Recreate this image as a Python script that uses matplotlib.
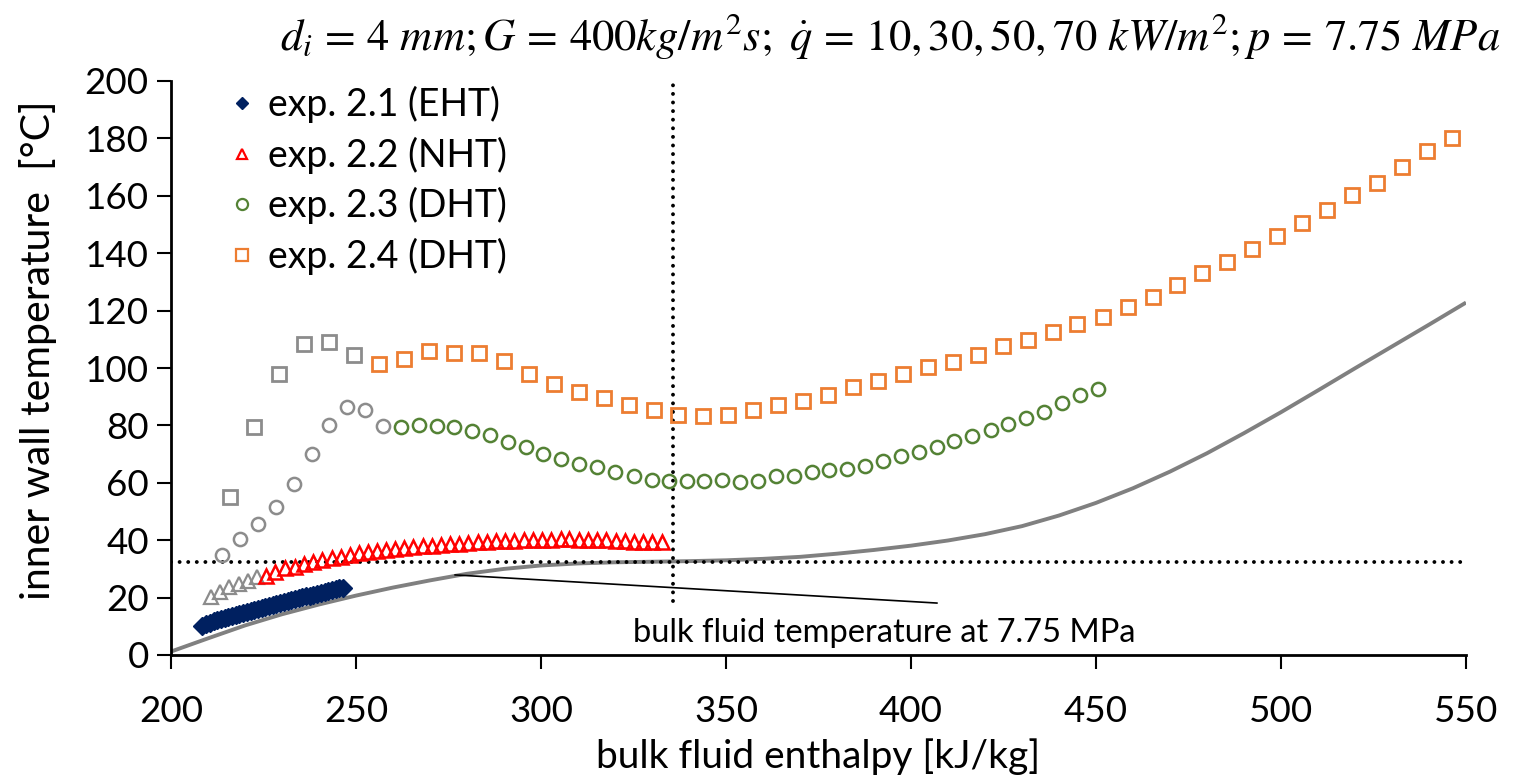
import matplotlib
matplotlib.use("Agg")
import matplotlib.pyplot as plt
from matplotlib.lines import Line2D

plt.rcParams['font.family'] = ['Lato', 'DejaVu Sans']
plt.rcParams['mathtext.fontset'] = 'stix'

# ---------------- data ----------------
# exp 2.1 (EHT)
h21 = [208.5, 209.5, 210.5, 211.5, 212.5, 213.5, 214.5, 215.5, 216.5, 217.5,
       218.5, 219.5, 220.5, 221.5, 222.5, 223.5, 224.5, 225.5, 226.5, 227.5,
       228.5, 229.5, 230.5, 231.5, 232.5, 233.5, 234.5, 235.5, 236.5, 237.5,
       238.5, 239.5, 240.5, 241.5, 242.5, 243.5, 244.5, 245.5, 246.5]
T21 = [10.2, 10.8, 11.3, 11.8, 12.2, 12.6, 13.0, 13.4, 13.7, 14.1,
       14.4, 14.8, 15.1, 15.4, 15.8, 16.1, 16.4, 16.8, 17.1, 17.4,
       17.8, 18.1, 18.4, 18.8, 19.1, 19.4, 19.7, 20.1, 20.4, 20.7,
       21.0, 21.3, 21.6, 22.0, 22.3, 22.6, 22.9, 23.2, 23.5]

# exp 2.2 (NHT) - entrance region (grey) and main part
h22_in = [210.8, 213.3, 215.7, 218.4, 220.9, 223.2]
T22_in = [20.3, 22.1, 23.6, 24.8, 25.8, 27.1]
h22 = [225.7, 228.1, 230.8, 233.5, 236.0, 238.5, 240.9, 243.4, 245.9, 248.4,
       250.9, 253.3, 255.6, 258.1, 260.6, 263.0, 265.5, 268.0, 270.5, 273.0,
       275.5, 277.9, 280.4, 282.9, 285.4, 287.9, 290.4, 292.8, 295.3, 297.8,
       300.3, 302.8, 305.3, 307.7, 310.2, 312.7, 315.2, 317.7, 320.2, 322.6,
       325.1, 327.6, 330.1, 332.6]
T22 = [27.5, 29.0, 30.2, 30.8, 31.6, 32.4, 33.1, 33.7, 34.3, 34.9,
       35.5, 35.8, 36.4, 36.7, 37.0, 37.3, 37.6, 37.9, 38.1, 38.4,
       38.6, 38.8, 39.0, 39.2, 39.4, 39.6, 39.7, 39.8, 39.9, 40.0,
       40.1, 40.2, 40.3, 40.3, 40.2, 40.1, 40.0, 39.9, 39.8, 39.6,
       39.5, 39.5, 39.4, 39.3]

# exp 2.3 (DHT)
h23_in = [213.7, 218.6, 223.4, 228.4, 233.2, 238.0, 242.8, 247.6, 252.4, 257.4]
T23_in = [34.9, 40.3, 45.7, 51.7, 59.6, 70.0, 80.1, 86.4, 85.4, 79.8]
h23 = [262.2, 267.0, 271.8, 276.6, 281.4, 286.2, 291.0, 295.9, 300.6, 305.4,
       310.4, 315.2, 320.0, 325.0, 329.9, 334.7, 339.4, 344.1, 349.0, 353.8,
       358.6, 363.5, 368.3, 373.2, 377.9, 382.8, 387.6, 392.5, 397.3, 402.2,
       406.9, 411.7, 416.6, 421.5, 426.3, 431.1, 436.0, 440.9, 445.7, 450.5]
T23 = [79.6, 80.2, 79.8, 79.6, 78.2, 76.6, 74.2, 72.3, 70.1, 68.3,
       66.6, 65.5, 63.8, 62.5, 61.0, 60.8, 60.7, 60.7, 60.9, 60.4,
       60.8, 62.2, 62.5, 63.6, 64.3, 64.7, 66.0, 67.5, 69.5, 70.7,
       72.4, 74.4, 76.4, 78.5, 80.4, 82.7, 84.8, 87.8, 90.6, 92.7]

# exp 2.4 (DHT)
h24_in = [215.9, 222.5, 229.3, 236.0, 242.8, 249.5]
T24_in = [55.0, 79.4, 98.0, 108.3, 109.2, 104.6]
h24 = [256.3, 263.1, 269.8, 276.6, 283.2, 290.0, 296.8, 303.4, 310.3, 317.0,
       323.8, 330.5, 337.1, 343.9, 350.6, 357.4, 364.1, 370.9, 377.6, 384.4,
       391.2, 397.9, 404.7, 411.4, 418.1, 424.8, 431.5, 438.3, 444.9, 451.8,
       458.6, 465.3, 472.0, 478.7, 485.5, 492.2, 499.0, 505.8, 512.5, 519.3,
       525.9, 532.7, 539.5, 546.2]
T24 = [101.4, 103.1, 106.0, 105.4, 105.2, 102.6, 97.9, 94.4, 91.8, 89.5,
       87.2, 85.4, 83.7, 83.3, 83.7, 85.4, 87.1, 88.6, 90.6, 93.4,
       95.5, 98.0, 100.5, 102.0, 104.6, 107.7, 109.8, 112.5, 115.4, 117.6,
       121.1, 124.9, 129.0, 133.1, 136.8, 141.5, 146.1, 150.5, 155.2, 160.3,
       164.5, 170.0, 175.5, 180.2]

# bulk fluid temperature at 7.75 MPa
h_bulk = [200, 210, 220, 230, 240, 250, 260, 270, 280, 290, 300, 310, 320, 330,
          340, 350, 360, 370, 380, 390, 400, 410, 420, 430, 440, 450, 460, 470,
          480, 490, 500, 510, 520, 530, 540, 550]
T_bulk = [1.2, 5.8, 10.3, 14.2, 17.6, 20.7, 23.5, 26.0, 28.3, 30.0, 31.2, 31.9,
          32.3, 32.5, 32.7, 33.0, 33.5, 34.2, 35.3, 36.6, 38.1, 39.9, 42.1, 44.9,
          48.6, 53.0, 58.1, 63.9, 70.3, 77.3, 84.6, 92.2, 99.9, 107.5, 115.1, 122.8]

T_pc = 32.4     # pseudo-critical temperature
h_pc = 335.6    # pseudo-critical enthalpy

labels = ['exp. 2.1 (EHT)', 'exp. 2.2 (NHT)', 'exp. 2.3 (DHT)', 'exp. 2.4 (DHT)']
x_ticks = [200, 250, 300, 350, 400, 450, 500, 550]
y_ticks = [0, 20, 40, 60, 80, 100, 120, 140, 160, 180, 200]

# ---------------- style ----------------
c21 = '#002060'
c22 = '#FF0000'
c23 = '#548235'
c24 = '#ED7D31'
cgr = '#8C8C8C'

fig = plt.figure(figsize=(15.19, 7.82), dpi=100)
ax = fig.add_axes([171/1519, 1-655/782, (1466-171)/1519, (655-81)/782])

ax.plot(h_bulk, T_bulk, color='#808080', lw=2.8, zorder=2, solid_capstyle='butt')

dots = (0, (0.01, 2.2))
ax.axhline(T_pc, color='black', lw=2.8, ls=dots, dash_capstyle='round', zorder=3)
ax.plot([h_pc, h_pc], [18.8, 198.5], color='black', lw=2.8, ls=dots,
        dash_capstyle='round', zorder=3)
ax.plot([276.8, 407.0], [27.9, 18.1], color='black', lw=1.2, zorder=3)
ax.text(324.9, 7.6, 'bulk fluid temperature at 7.75 MPa', fontsize=23.5,
        ha='left', va='center')

ax.plot(h21, T21, ls='none', marker='D', ms=9, color=c21, mec=c21, zorder=5)
ax.plot(h22_in, T22_in, ls='none', marker='^', ms=9.5, mfc='none', mec=cgr, mew=1.6, zorder=4)
ax.plot(h22, T22, ls='none', marker='^', ms=9.5, mfc='none', mec=c22, mew=1.8, zorder=4)
ax.plot(h23_in, T23_in, ls='none', marker='o', ms=9.5, mfc='none', mec=cgr, mew=1.8, zorder=4)
ax.plot(h23, T23, ls='none', marker='o', ms=9.5, mfc='none', mec=c23, mew=1.8, zorder=4)
ax.plot(h24_in, T24_in, ls='none', marker='s', ms=10, mfc='none', mec=cgr, mew=2.0, zorder=4)
ax.plot(h24, T24, ls='none', marker='s', ms=10, mfc='none', mec=c24, mew=2.0, zorder=4)

ax.set_xlim(x_ticks[0], x_ticks[-1])
ax.set_ylim(y_ticks[0], y_ticks[-1])
ax.set_xticks(x_ticks)
ax.set_yticks(y_ticks)
ax.tick_params(axis='both', labelsize=26.5, direction='out', length=10, width=1.5)
ax.tick_params(axis='x', pad=19)
ax.tick_params(axis='y', pad=6)
for s in ['top', 'right']:
    ax.spines[s].set_visible(False)
for s in ['left', 'bottom']:
    ax.spines[s].set_linewidth(2.0)

fig.text(818/1519, 1-757/782, 'bulk fluid enthalpy [kJ/kg]', fontsize=28,
         ha='center', va='center')
fig.text(38/1519, 1-350/782, 'inner wall temperature  [°C]', fontsize=29.5,
         ha='center', va='center', rotation=90)

title = (r'$d_i\,=\,4\ mm;G\,=\,400kg/m^2s;\ \dot{q}\,=\,10,30,50,70\ kW/m^2;p\,=\,7.75\ MPa$')
fig.text(890/1519, 1-36/782, title, fontsize=32, ha='center', va='center')

handles = [
    Line2D([], [], ls='none', marker='D', ms=6.5, color=c21),
    Line2D([], [], ls='none', marker='^', ms=7.5, mfc='none', mec=c22, mew=1.6),
    Line2D([], [], ls='none', marker='o', ms=8, mfc='none', mec=c23, mew=1.6),
    Line2D([], [], ls='none', marker='s', ms=8, mfc='none', mec=c24, mew=1.6),
]
leg = ax.legend(handles, labels, loc='upper left', bbox_to_anchor=(225/1519, 1-86/782),
                bbox_transform=fig.transFigure, frameon=False, fontsize=27,
                handlelength=0.9, handletextpad=0.25, labelspacing=0.36,
                borderpad=0, borderaxespad=0)

fig.savefig('out.png', dpi=100, facecolor='white')
